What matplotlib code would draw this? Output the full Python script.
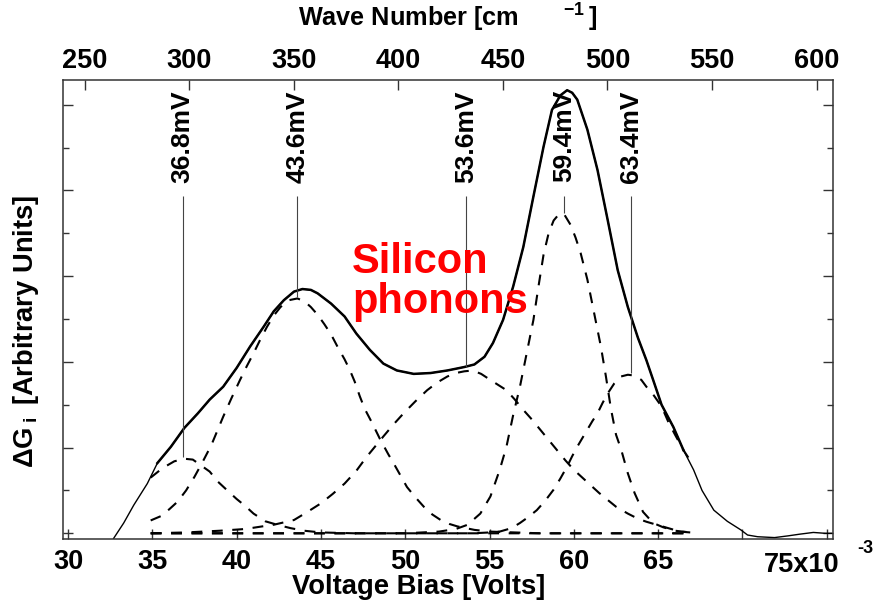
import matplotlib
matplotlib.use('Agg')
import matplotlib.pyplot as plt
from matplotlib.transforms import blended_transform_factory

AXFONT = ['Liberation Sans', 'DejaVu Sans']
FS_TICK, FS_LABEL, FS_PEAK, FS_TITLE, FS_EXP = 19.5, 19.7, 19, 18.2, 13

plt.rcParams['font.family'] = AXFONT
plt.rcParams['font.weight'] = 'bold'
plt.rcParams['mathtext.fontset'] = 'custom'
plt.rcParams['mathtext.rm'] = 'Liberation Sans:bold'
plt.rcParams['mathtext.bf'] = 'Liberation Sans:bold'
plt.rcParams['mathtext.it'] = 'Liberation Sans:bold'

# ---------------- data (bias in mV, dG in arbitrary units) ----------------
bias_mv = [32.7, 33.3, 33.9, 34.7, 35.3, 36.1, 36.9, 37.7, 38.4, 39.2, 40.0, 40.8,
           41.6, 42.2, 42.8, 43.4, 43.9, 44.4, 44.8, 45.6, 46.4, 47.1, 47.9, 48.7,
           49.5, 50.5, 51.5, 52.5, 53.5, 54.1, 54.7, 55.2, 55.8, 56.4, 57.0, 57.6,
           58.2, 58.7, 59.2, 59.6, 59.9, 60.2, 60.8, 61.4, 62.0, 62.6, 63.2, 63.8,
           64.3, 64.7, 65.2, 65.9, 66.5, 67.1, 67.6, 68.3, 69.1, 69.9, 70.3, 70.9,
           71.9, 72.7, 73.4, 74.2, 74.9, 75.3]
dG_measured = [-0.06, 0.12, 0.33, 0.58, 0.82, 1.01, 1.23, 1.40, 1.56, 1.71, 1.93, 2.18,
               2.41, 2.59, 2.72, 2.82, 2.85, 2.84, 2.80, 2.68, 2.53, 2.33, 2.14, 1.98,
               1.90, 1.86, 1.87, 1.90, 1.94, 1.97, 2.06, 2.22, 2.49, 2.88, 3.34, 3.93,
               4.51, 4.94, 5.11, 5.17, 5.14, 5.06, 4.71, 4.24, 3.66, 3.07, 2.64, 2.28,
               2.02, 1.79, 1.50, 1.24, 0.97, 0.74, 0.50, 0.27, 0.14, 0.04, -0.02, -0.04,
               -0.05, -0.03, -0.01, 0.01, 0.00, 0.00]
fit_range = (34.9, 66.9)

g1_v = [34.9, 35.6, 36.3, 36.9, 37.4, 37.9, 38.4, 38.9, 39.5, 40.0, 40.5, 41.0, 41.7,
        42.4, 43.2, 44.0, 45.0, 47.0, 66.9]
g1_y = [0.65, 0.76, 0.84, 0.87, 0.86, 0.79, 0.72, 0.60, 0.49, 0.40, 0.32, 0.23, 0.14,
        0.10, 0.06, 0.03, 0.01, 0.0, 0.0]

g2_v = [34.9, 35.5, 36.0, 36.5, 37.0, 37.5, 38.0, 38.5, 39.2, 39.7, 40.2, 40.6, 41.0,
        41.4, 41.8, 42.2, 42.6, 43.1, 43.6, 44.0, 44.4, 44.8, 45.2, 45.6, 46.0, 46.4,
        46.7, 47.0, 47.3, 47.6, 48.0, 48.5, 49.0, 49.3, 49.7, 50.1, 50.6, 51.1, 51.6,
        52.1, 52.6, 53.1, 54.1, 55.0, 56.5, 58.0, 66.9]
g2_y = [0.15, 0.20, 0.28, 0.37, 0.50, 0.66, 0.84, 1.03, 1.36, 1.58, 1.79, 1.95, 2.10,
        2.26, 2.41, 2.54, 2.64, 2.72, 2.74, 2.71, 2.64, 2.55, 2.44, 2.32, 2.17, 2.03,
        1.91, 1.77, 1.60, 1.45, 1.30, 1.10, 0.92, 0.82, 0.68, 0.54, 0.42, 0.31, 0.22,
        0.155, 0.11, 0.08, 0.04, 0.02, 0.01, 0.0, 0.0]

g3_v = [34.9, 37.0, 39.0, 40.5, 41.5, 42.2, 43.4, 44.2, 45.0, 45.7, 46.4, 47.1, 47.7,
        48.2, 48.7, 49.3, 49.9, 50.6, 51.3, 51.9, 52.5, 53.0, 53.5, 54.0, 54.5, 55.2,
        56.0, 56.5, 57.0, 57.5, 58.0, 58.5, 59.0, 59.5, 60.0, 60.5, 61.0, 61.5, 62.0,
        62.5, 63.2, 63.8, 64.3, 64.9, 65.6, 66.3, 66.9]
g3_y = [0.0, 0.01, 0.03, 0.05, 0.08, 0.10, 0.155, 0.25, 0.35, 0.46, 0.58, 0.73, 0.89,
        1.01, 1.13, 1.27, 1.40, 1.54, 1.67, 1.76, 1.83, 1.87, 1.89, 1.90, 1.86, 1.77,
        1.67, 1.56, 1.44, 1.33, 1.21, 1.09, 0.97, 0.85, 0.74, 0.65, 0.56, 0.47, 0.39,
        0.31, 0.23, 0.17, 0.135, 0.10, 0.06, 0.02, 0.01]

g4_v = [34.9, 50.0, 52.0, 53.0, 53.7, 54.45, 55.05, 55.6, 56.0, 56.4, 56.8, 57.2, 57.6,
        57.9, 58.2, 58.5, 58.8, 59.1, 59.4, 59.8, 60.1, 60.4, 60.8, 61.2, 61.6, 61.9,
        62.2, 62.5, 62.8, 63.2, 63.6, 64.1, 64.7, 65.3, 66.0, 66.9]
g4_y = [0.0, 0.0, 0.02, 0.05, 0.10, 0.23, 0.43, 0.74, 1.01, 1.38, 1.71, 2.10, 2.49,
        2.88, 3.25, 3.50, 3.65, 3.72, 3.73, 3.60, 3.45, 3.27, 2.96, 2.57, 2.18, 1.83,
        1.45, 1.15, 0.98, 0.70, 0.47, 0.25, 0.12, 0.07, 0.03, 0.01]

g5_v = [34.9, 54.0, 55.0, 55.6, 56.3, 56.8, 57.3, 57.8, 58.3, 58.8, 59.2, 59.6, 59.9,
        60.2, 60.5, 60.8, 61.1, 61.4, 61.7, 62.0, 62.4, 62.8, 63.2, 63.6, 64.0, 64.3,
        64.7, 65.2, 65.6, 66.0, 66.5, 66.8]
g5_y = [0.0, 0.0, 0.01, 0.02, 0.06, 0.12, 0.19, 0.27, 0.38, 0.51, 0.64, 0.78, 0.90,
        1.01, 1.11, 1.21, 1.31, 1.40, 1.52, 1.63, 1.75, 1.83, 1.85, 1.84, 1.79, 1.71,
        1.62, 1.48, 1.30, 1.15, 0.97, 0.88]

peak_mv = [36.8, 43.6, 53.6, 59.4, 63.4]
peak_labels = ['36.8mV', '43.6mV', '53.6mV', '59.4mV', '63.4mV']
peak_line_bottom = [0.89, 2.76, 1.94, 3.74, 1.87]
peak_line_top = 3.94

x_ticks = [30, 35, 40, 45, 50, 55, 60, 65, 70, 75]
x_ticklabels = ['30', '35', '40', '45', '50', '55', '60', '65', '', '']
wn_ticks = [250, 300, 350, 400, 450, 500, 550, 600]
MEV_TO_WN = 8.0655

# ---------------- figure ----------------
W, H = 875, 604
fig = plt.figure(figsize=(W / 100, H / 100), dpi=100)
left, right, top, bottom = 63, 832.7, 80, 539.3
ax = fig.add_axes([left / W, 1 - bottom / H, (right - left) / W, (bottom - top) / H])

ax.set_xlim(29.7, 75.35)
ax.set_ylim(-0.07, 5.289)

dash = (0, (5.2, 4.6))
for gv, gy in [(g1_v, g1_y), (g2_v, g2_y), (g3_v, g3_y), (g4_v, g4_y), (g5_v, g5_y)]:
    ax.plot(gv, gy, color='black', lw=1.5, linestyle=dash)

ax.plot(bias_mv, dG_measured, color='black', lw=1.0)
fit_v = [v for v in bias_mv if fit_range[0] <= v <= fit_range[1]]
fit_y = [y for v, y in zip(bias_mv, dG_measured) if fit_range[0] <= v <= fit_range[1]]
ax.plot(fit_v, fit_y, color='black', lw=1.8)

ax.vlines(peak_mv, peak_line_bottom, peak_line_top, color='#444444', lw=0.8)
for v, lab in zip(peak_mv, peak_labels):
    ax.text(v, 5.17, lab, rotation=90, ha='center', va='top', fontsize=FS_PEAK,
            fontweight='bold')

ax.text(46.86, 3.40, 'Silicon\nphonons', color='#ff0000', fontsize=30,
        fontweight='bold', ha='left', va='top', linespacing=1.0)

# axes styling
for s in ax.spines.values():
    s.set_color('#333333')
    s.set_linewidth(1.1)

ax.set_xticks(x_ticks)
ax.set_xticklabels(x_ticklabels)
ax.set_yticks([0, 1, 2, 3, 4, 5])
ax.set_yticks([0.5, 1.5, 2.5, 3.5, 4.5], minor=True)
ax.tick_params(axis='x', which='major', direction='in', length=7, width=1,
               labelsize=FS_TICK, pad=7, colors='#333333', labelcolor='black')
ax.tick_params(axis='y', which='both', direction='in', left=True, right=True,
               labelleft=False, colors='#333333')
ax.tick_params(axis='y', which='major', length=7, width=1)
ax.tick_params(axis='y', which='minor', length=4, width=1)

trans = blended_transform_factory(ax.transData, ax.transAxes)
ax.annotate('75x10', xy=(75, 0), xycoords=trans, xytext=(-25, -26),
            textcoords='offset pixels', ha='center', va='center', fontsize=FS_TICK,
            fontweight='bold')
ax.annotate('-3', xy=(75, 0), xycoords=trans, xytext=(39, -9),
            textcoords='offset pixels', ha='center', va='center', fontsize=FS_EXP,
            fontweight='bold')

sec = ax.secondary_xaxis('top', functions=(lambda v: v * MEV_TO_WN,
                                            lambda w: w / MEV_TO_WN))
sec.set_xticks(wn_ticks)
sec.tick_params(axis='x', direction='in', length=7, width=1, labelsize=FS_TICK, pad=4,
                colors='#333333', labelcolor='black')
sec.spines['top'].set_visible(False)

ax.set_xlabel('Voltage Bias [Volts]', fontsize=FS_LABEL, fontweight='bold', va='center')
ax.xaxis.set_label_coords((419 - left) / (right - left), (bottom - 587) / (bottom - top))
ax.set_ylabel(r'$\Delta$G$\,{}_{\rm i}\,$ [Arbitrary Units]', fontsize=FS_LABEL,
              fontweight='bold', va='center', ha='center')
ax.yaxis.set_label_coords((26 - left) / (right - left), (bottom - 331) / (bottom - top))
ax.set_title(r'Wave Number [cm$\qquad{}^{-1}\,$]', fontsize=FS_TITLE, fontweight='bold',
             y=(bottom - 18) / (bottom - top), va='center', pad=0)

fig.savefig('out.png', dpi=100)
